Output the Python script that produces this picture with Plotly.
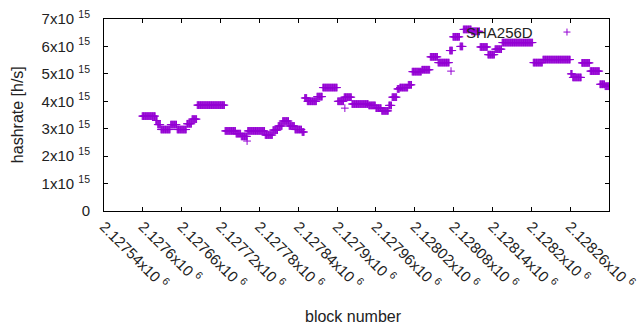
import plotly.graph_objects as go

# ---- data ----
run_start = [2127599, 2127620, 2127623, 2127628, 2127643, 2127653, 2127668, 2127676,
             2127684, 2127727, 2127744, 2127752, 2127762, 2127789, 2127801, 2127809,
             2127816, 2127826, 2127835, 2127846, 2127850, 2127854, 2127869, 2127878,
             2127901, 2127911, 2127923, 2127949, 2127960, 2127969, 2127980, 2127985,
             2127993, 2127997, 2128010, 2128016, 2128031, 2128044, 2128056, 2128074,
             2128079, 2128090, 2128095, 2128108, 2128121, 2128133, 2128144, 2128155,
             2128203, 2128218, 2128261, 2128264, 2128278, 2128291, 2128306, 2128314]
run_end_last = 2128325
run_value = [3.46, 3.30, 3.15, 2.97, 3.15, 2.97, 3.18, 3.35,
             3.86, 2.92, 2.82, 2.72, 2.92, 2.77, 2.95, 3.10,
             3.28, 3.10, 2.97, 2.88, 4.12, 4.00, 4.17, 4.50,
             4.00, 4.15, 3.90, 3.85, 3.75, 3.65, 3.85, 4.15,
             4.45, 4.50, 4.60, 5.08, 5.15, 5.62, 5.41, 5.85,
             6.35, 6.00, 6.62, 6.55, 5.98, 5.70, 5.90, 6.14,
             5.41, 5.52, 5.00, 4.87, 5.40, 5.10, 4.62, 4.55]  # x1e15 h/s
outlier_block = [2127761, 2127912, 2128076]
outlier_value = [2.55, 3.75, 5.10]  # x1e15 h/s

series_name = "SHA256D"
x_tickvals = [2127540 + 60 * i for i in range(14)]
x_ticktext = ["2.12754", "2.1276", "2.12766", "2.12772", "2.12778", "2.12784", "2.1279",
              "2.12796", "2.12802", "2.12808", "2.12814", "2.1282", "2.12826", "2.12832"]
y_tickvals = [0, 1e15, 2e15, 3e15, 4e15, 5e15, 6e15, 7e15]
y_ticktext = ["0", "1x10", "2x10", "3x10", "4x10", "5x10", "6x10", "7x10"]

# ---- expand runs into per-block points ----
blocks, rates = [], []
ends = run_start[1:] + [run_end_last]
for s, e, v in zip(run_start, ends, run_value):
    for b in range(s, e):
        blocks.append(b)
        rates.append(v * 1e15)
blocks += outlier_block
rates += [v * 1e15 for v in outlier_value]

PURPLE = "#9400D3"
FONT = "Liberation Sans, Arial, sans-serif"

fig = go.Figure()
fig.add_trace(go.Scatter(
    x=blocks, y=rates, mode="markers", name=series_name, showlegend=False,
    marker=dict(symbol="cross-thin", size=5.5, color=PURPLE,
                line=dict(color=PURPLE, width=1)),
))

axis_common = dict(
    showline=True, linecolor="black", linewidth=1, mirror="ticks",
    ticks="inside", ticklen=4, tickcolor="black", tickwidth=1,
    showgrid=False, zeroline=False, automargin=False,
    tickfont=dict(family=FONT, size=15, color="#222"),
)
fig.update_xaxes(
    range=[2127540, 2128320], tickmode="array", tickvals=x_tickvals,
    ticktext=[t + "x10 <sup>6</sup>" for t in x_ticktext], tickangle=45,
    **axis_common,
)
fig.update_yaxes(
    range=[0, 7e15], tickmode="array", tickvals=y_tickvals,
    ticktext=[t if t == "0" else t + " <sup>15</sup>" for t in y_ticktext],
    ticklabelstandoff=10,
    **axis_common,
)

fig.add_annotation(text="block number", xref="paper", yref="paper", x=0.495, y=-0.547,
                   showarrow=False, xanchor="center", yanchor="middle",
                   font=dict(family=FONT, size=16, color="#222"))
fig.add_annotation(text="hashrate [h/s]", xref="paper", yref="paper", x=-0.172, y=0.5,
                   textangle=-90, showarrow=False, xanchor="center", yanchor="middle",
                   font=dict(family=FONT, size=16, color="#222"))
# key (gnuplot style: text then sample on the right)
fig.add_annotation(text=series_name, xref="paper", yref="paper", x=0.853, y=0.932,
                   showarrow=False, xanchor="right", yanchor="middle",
                   font=dict(family=FONT, size=15, color="#222"))
for x0, x1, y0, y1 in [(-3.5, 3.5, 0, 0), (0, 0, -3.5, 3.5)]:
    fig.add_shape(type="line", xref="paper", yref="paper",
                  xsizemode="pixel", ysizemode="pixel", xanchor=0.9168, yanchor=0.932,
                  x0=x0, x1=x1, y0=y0, y1=y1, line=dict(color=PURPLE, width=1))

fig.update_layout(
    width=640, height=330,
    margin=dict(l=104, r=31, t=19, b=119),
    paper_bgcolor="white", plot_bgcolor="white",
)
fig.write_html("out.html", config={"displayModeBar": False},
               post_script="document.body.style.margin='0';document.body.style.overflow='hidden';")
